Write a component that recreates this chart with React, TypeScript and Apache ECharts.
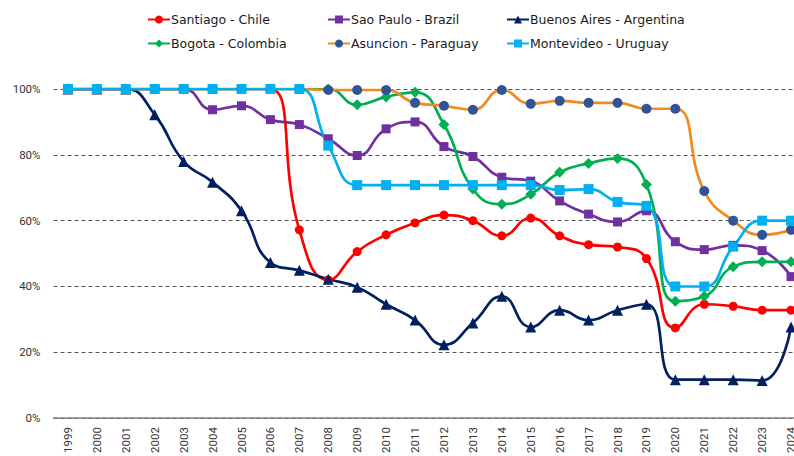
import React, { useEffect, useRef } from "react";
import * as echarts from "echarts";

const years = ["1999","2000","2001","2002","2003","2004","2005","2006","2007","2008","2009","2010","2011","2012","2013","2014","2015","2016","2017","2018","2019","2020","2021","2022","2023","2024"];

const santiago = [100,100,100,100,100,100,100,100,57.2,42,50.6,55.7,59.3,61.7,60,55.4,60.8,55.4,52.7,52,48.5,27.4,34.6,34,32.8,32.8];
const saoPaulo = [100,100,100,100,100,93.7,94.9,90.7,89.2,84.9,79.8,87.9,90,82.5,79.5,73.2,72,66,62,59.6,63,53.6,51.2,52.5,50.9,43];
const buenosAires = [100,100,100,92.2,78,71.7,63,47.3,44.9,42.2,39.8,34.6,29.8,22.3,28.9,37,27.7,32.8,29.8,32.8,34.6,11.7,11.7,11.7,11.4,27.7];
const bogota = [100,100,100,100,100,100,100,100,100,100,95.2,97.6,99,89.2,69.6,65,68,74.7,77.4,78.9,71,35.5,37,46,47.5,47.5];
const asuncion = [100,100,100,100,100,100,100,100,100,99.7,99.7,99.7,95.8,94.9,93.7,99.7,95.5,96.4,95.8,95.8,94,94,69,60,55.7,57.2];
const montevideo = [100,100,100,100,100,100,100,100,100,82.8,70.8,70.8,70.8,70.8,70.8,70.8,70.8,69.3,69.6,65.7,64.5,40,40,52.1,60,60];

const yTicks = [0, 20, 40, 60, 80, 100];

const AXIS_FONT = "Roboto, 'Noto Sans', sans-serif";
const LEGEND_FONT = "'DejaVu Sans', 'Noto Sans', sans-serif";

export default function App() {
  const ref = useRef<HTMLDivElement>(null);
  useEffect(() => {
    if (!ref.current) return;
    const chart = echarts.init(ref.current, null, { renderer: "svg" });
    const mk = (name: string, data: number[], line: string, sym: string, size: number, symColor?: string) => ({
      name,
      type: "line",
      data,
      smooth: 0.5,
      symbol: sym,
      symbolSize: size,
      showAllSymbol: true,
      lineStyle: { color: line, width: 2.7 },
      itemStyle: { color: symColor || line, borderWidth: 0 },
      emphasis: { disabled: true },
    });
    const legendPos = [
      { name: "Santiago - Chile", left: 147, top: 13 },
      { name: "Sao Paulo - Brazil", left: 327, top: 13 },
      { name: "Buenos Aires - Argentina", left: 506, top: 13 },
      { name: "Bogota - Colombia", left: 147, top: 37 },
      { name: "Asuncion - Paraguay", left: 327, top: 37 },
      { name: "Montevideo - Uruguay", left: 506, top: 37 },
    ];
    chart.setOption({
      animation: false,
      legend: legendPos.map((l) => ({
        data: [l.name],
        left: l.left,
        top: l.top,
        itemWidth: 22,
        itemHeight: 10,
        itemGap: 0,
        padding: 0,
        textStyle: { fontFamily: LEGEND_FONT, fontSize: 12.5, color: "#1a1a1a", padding: [0, 0, 0, -4] },
        selectedMode: false,
      })),
      grid: { left: 53.5, right: 6.5, top: 89, bottom: 35, containLabel: false },
      xAxis: {
        type: "category",
        data: years,
        boundaryGap: true,
        axisLine: { show: true, lineStyle: { color: "#808080", width: 1.5 } },
        axisTick: { show: false },
        axisLabel: { rotate: 90, fontFamily: AXIS_FONT, fontSize: 11.5, color: "#333", margin: 9, interval: 0 },
      },
      yAxis: {
        type: "value",
        min: 0,
        max: 100,
        interval: 20,
        axisLine: { show: false },
        axisTick: { show: false },
        axisLabel: {
          fontFamily: AXIS_FONT,
          fontSize: 11.5,
          color: "#333",
          margin: 13,
          formatter: (v: number) => (yTicks.includes(v) ? v + "%" : ""),
        },
        splitLine: { show: true, lineStyle: { type: [4, 3], color: "#555", width: 1 } },
      },
      series: [
        mk("Santiago - Chile", santiago, "#FF0000", "circle", 9),
        mk("Sao Paulo - Brazil", saoPaulo, "#7030A0", "rect", 9),
        mk("Buenos Aires - Argentina", buenosAires, "#002060", "triangle", 11),
        mk("Bogota - Colombia", bogota, "#00B050", "diamond", 11),
        mk("Asuncion - Paraguay", asuncion, "#F28A1E", "circle", 10, "#2F5597"),
        mk("Montevideo - Uruguay", montevideo, "#00B0F0", "rect", 10),
      ],
    });
    return () => chart.dispose();
  }, []);
  return (
    <div style={{ position: "fixed", left: 0, top: 0, width: 794, height: 456, overflow: "hidden", background: "#fff" }}>
      <div ref={ref} style={{ width: 812, height: 456 }} />
    </div>
  );
}
